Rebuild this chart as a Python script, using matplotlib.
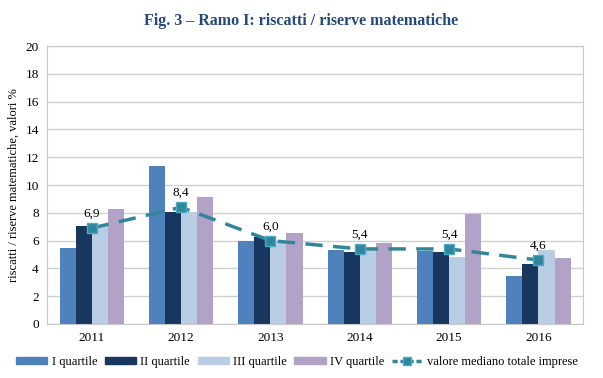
import numpy as np
import matplotlib
matplotlib.use("Agg")
import matplotlib.pyplot as plt
from matplotlib.lines import Line2D
from matplotlib.patches import Patch

plt.rcParams['font.family'] = ['Liberation Serif', 'DejaVu Serif']

# --------- data ---------- #
years = ['2011', '2012', '2013', '2014', '2015', '2016']
q1 = [5.5, 11.4, 5.95, 5.3, 5.25, 3.45]
q2 = [7.05, 8.05, 6.25, 5.2, 5.15, 4.35]
q3 = [7.05, 8.05, 5.95, 5.45, 4.85, 5.3]
q4 = [8.25, 9.15, 6.55, 5.85, 7.95, 4.75]
mediano = [6.9, 8.4, 6.0, 5.4, 5.4, 4.6]
mediano_lbl = ['6,9', '8,4', '6,0', '5,4', '5,4', '4,6']

series = [q1, q2, q3, q4]
names = ['I quartile', 'II quartile', 'III quartile', 'IV quartile']
colors = ['#4F81BD', '#17375E', '#B9CDE5', '#B3A2C7']

fig = plt.figure(figsize=(6.03, 3.78), dpi=100)
ax = fig.add_axes([0.078, 0.143, 0.889, 0.735])

x = np.arange(len(years))
w = 0.18
for i, (s, c) in enumerate(zip(series, colors)):
    ax.bar(x + (i - 1.5) * w, s, w, color=c, zorder=2)

# median line, longer dashes as in the reference
ax.plot(x, mediano, color='#31859C', lw=2.5, ls=(0, (5, 3)),
        marker='s', ms=7, mfc='#31859C', mec='#4BACC6', zorder=3)
for xi, v, t in zip(x, mediano, mediano_lbl):
    ax.text(xi, v + 0.6, t, ha='center', va='bottom', fontsize=9.5, zorder=4)

ax.set_xlim(-0.5, len(years) - 0.5)
ax.set_ylim(0, 20)
ax.set_yticks(np.arange(0, 21, 2))
ax.set_xticks(x)
ax.set_xticklabels(years)
ax.tick_params(length=0, labelsize=9.5, pad=6)
ax.yaxis.grid(True, color='#D0D0D0', lw=1, zorder=0)
for sp in ax.spines.values():
    sp.set_color('#C8C8C8')
ax.set_ylabel('riscatti / riserve matematiche, valori %', fontsize=9)

fig.text(0.5, 0.945, 'Fig. 3 – Ramo I: riscatti / riserve matematiche',
         ha='center', va='center', fontsize=11.5, fontweight='bold', color='#244A7C')

handles = [Patch(color=c, label=n) for c, n in zip(colors, names)]
handles.append(Line2D([0], [0], color='#31859C', lw=2.5, ls=(0, (1.5, 0.8)),
                      marker='s', ms=6, mfc='#31859C', mec='#4BACC6',
                      label='valore mediano totale imprese'))
fig.legend(handles=handles, loc='center', bbox_to_anchor=(0.493, 0.042), ncol=5,
           frameon=False, fontsize=9, handlelength=2.5, handleheight=0.4,
           handletextpad=0.35, columnspacing=0.6, borderpad=0, borderaxespad=0)

fig.savefig('out.png', dpi=100)
